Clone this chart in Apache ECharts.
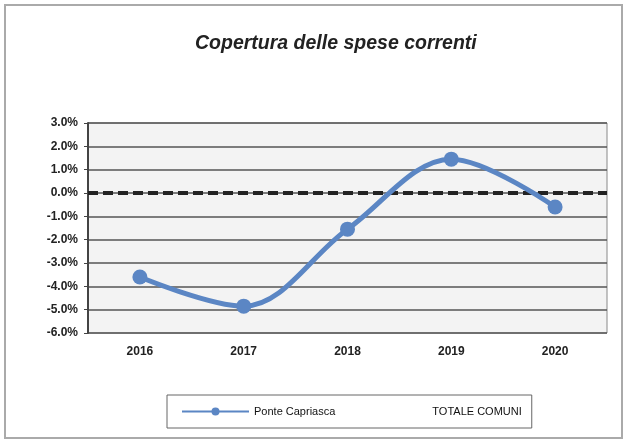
<!DOCTYPE html>
<html>
<head>
<meta charset="utf-8">
<script src="https://cdn.jsdelivr.net/npm/echarts@6/dist/echarts.min.js"></script>
<style>
  html, body { margin: 0; padding: 0; background: #fff; }
  #chart { width: 628px; height: 441px; }
</style>
</head>
<body>
<div id="chart"></div>
<script>
var anni = ['2016', '2017', '2018', '2019', '2020']
var ponteCapriasca = [-3.6, -4.85, -1.55, 1.45, -0.6]
var totaleComuni = [0, 0, 0, 0, 0]

var myChart = echarts.init(document.getElementById('chart'))
var option = {
  animation: false,
  title: {
    text: 'Copertura delle spese correnti',
    left: 190,
    top: 29,
    textStyle: {
      fontFamily: 'Liberation Sans',
      fontSize: 19.5,
      fontWeight: 'bold',
      fontStyle: 'italic',
      color: '#222'
    }
  },
  graphic: [{
    type: 'rect',
    shape: { x: 5, y: 5, width: 617, height: 433 },
    style: { fill: 'none', stroke: '#aaa', lineWidth: 2 },
    z: -1
  }],
  legend: {
    left: 167,
    top: 395,
    padding: [11, 10, 11, 14],
    borderColor: '#666',
    borderWidth: 1,
    itemWidth: 67,
    itemHeight: 10,
    itemGap: 24,
    textStyle: { fontFamily: 'Liberation Sans', fontSize: 11, color: '#111' },
    data: [
      { name: 'Ponte Capriasca' },
      { name: 'TOTALE COMUNI', itemStyle: { opacity: 0 }, lineStyle: { opacity: 0 } }
    ]
  },
  grid: {
    left: 88,
    right: 21,
    top: 123,
    height: 210,
    show: true,
    backgroundColor: '#f3f3f3',
    borderColor: '#888',
    borderWidth: 1
  },
  xAxis: [{
    type: 'category',
    data: anni,
    axisLine: { show: false },
    axisTick: { show: false },
    axisLabel: {
      margin: 13,
      fontFamily: 'Liberation Sans',
      fontSize: 12,
      fontWeight: 'bold',
      color: '#222'
    }
  }, {
    type: 'category',
    data: anni,
    boundaryGap: false,
    show: false
  }],
  yAxis: {
    type: 'value',
    min: -6,
    max: 3,
    interval: 1,
    axisLine: { show: true, lineStyle: { color: '#444', width: 2 } },
    axisTick: { show: true, length: 4, lineStyle: { color: '#444' } },
    axisLabel: {
      margin: 10,
      fontFamily: 'Liberation Sans',
      fontSize: 12,
      fontWeight: 'bold',
      color: '#222',
      formatter: function (v) { return v.toFixed(1) + '%' }
    },
    splitLine: { lineStyle: { color: '#555', width: 1.5 } }
  },
  series: [{
    name: 'TOTALE COMUNI',
    type: 'line',
    xAxisIndex: 1,
    data: totaleComuni,
    symbol: 'none',
    lineStyle: { color: '#222', width: 4, type: [10, 5] },
    z: 2
  }, {
    name: 'Ponte Capriasca',
    type: 'line',
    data: ponteCapriasca,
    smooth: 0.35,
    symbol: 'circle',
    symbolSize: 15,
    itemStyle: { color: '#5b86c4' },
    lineStyle: { color: '#5b86c4', width: 5 },
    z: 3
  }]
}
option && myChart.setOption(option)
window.addEventListener('resize', myChart.resize)
</script>
</body>
</html>
